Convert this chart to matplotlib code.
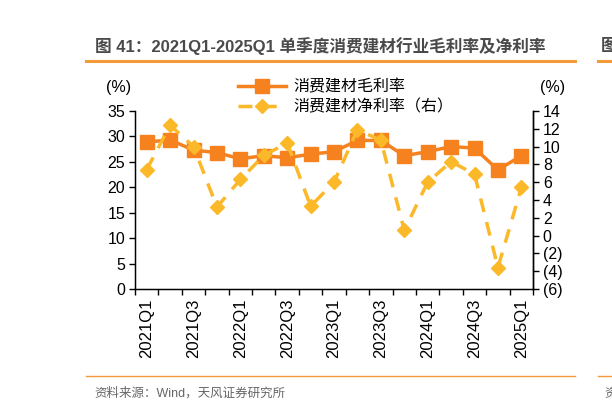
import numpy as np
import matplotlib.pyplot as plt
from matplotlib.lines import Line2D

plt.rcParams['font.family'] = ['Liberation Sans', 'Noto Sans CJK SC']

quarters = ['2021Q1', '2021Q2', '2021Q3', '2021Q4', '2022Q1', '2022Q2', '2022Q3', '2022Q4',
            '2023Q1', '2023Q2', '2023Q3', '2023Q4', '2024Q1', '2024Q2', '2024Q3', '2024Q4', '2025Q1']
gross_margin = [28.9, 29.3, 27.3, 26.8, 25.6, 26.2, 25.8, 26.5,
                27.0, 29.2, 29.2, 26.2, 27.0, 28.0, 27.7, 23.4, 26.2]
net_margin = [7.4, 12.4, 10.0, 3.2, 6.3, 9.0, 10.4, 3.3,
              6.0, 11.9, 10.7, 0.6, 6.0, 8.3, 6.9, -3.6, 5.4]
right_ticks = [14, 12, 10, 8, 6, 4, 2, 0, -2, -4, -6]

c_gross = '#F5821F'
c_net = '#FBB829'

fig = plt.figure(figsize=(6.12, 4.11), dpi=100)
ax = fig.add_axes([0.2206, 0.297, 0.6504, 0.433])
x = np.arange(len(quarters))

ax.plot(x, gross_margin, color=c_gross, lw=2.5, marker='s', markersize=10, zorder=3)
ax.set_ylim(0, 35)
ax.set_yticks(range(0, 36, 5))
ax.set_xlim(-0.5, len(quarters) - 0.5)
ax.set_xticks(x[::2])
ax.set_xticklabels(quarters[::2], rotation=90, fontsize=12)
ax.set_xticks(np.arange(-0.5, len(quarters)), minor=True)
ax.tick_params(axis='x', which='major', length=0, pad=7)
ax.tick_params(axis='x', which='minor', length=4, width=1, direction='out')
ax.tick_params(axis='y', length=4, width=1, labelsize=11.5, direction='out', pad=3)
ax.spines['top'].set_visible(False)
for s in ['left', 'bottom', 'right']:
    ax.spines[s].set_linewidth(1)

ax2 = ax.twinx()
ax2.plot(x, net_margin, color=c_net, lw=2.5, ls=(0, (4, 3)), marker='D', markersize=7.5, zorder=3)
ax2.set_ylim(-6, 14)
ax2.set_yticks(right_ticks)
ax2.set_yticklabels([str(v) if v >= 0 else '(%d)' % -v for v in right_ticks])
ax2.tick_params(axis='y', length=4, width=1, labelsize=11.5, direction='out', pad=3)
ax2.spines['top'].set_visible(False)
ax2.spines['right'].set_linewidth(1)

fig.text(0.193, 0.788, '(%)', fontsize=11.5, ha='center', va='center')
fig.text(0.903, 0.788, '(%)', fontsize=11.5, ha='center', va='center')

handles = [Line2D([], [], color=c_gross, lw=2.5, marker='s', markersize=10),
           Line2D([], [], color=c_net, lw=2.5, ls=(0, (4, 3)), marker='D', markersize=7.5)]
fig.legend(handles, ['消费建材毛利率', '消费建材净利率（右）'], loc='center',
           bbox_to_anchor=(0.565, 0.765), frameon=False, fontsize=11.5,
           handlelength=3.0, handletextpad=0.5, labelspacing=0.3)

fig.text(0.155, 0.888, '图 41：2021Q1-2025Q1 单季度消费建材行业毛利率及净利率',
         fontsize=12, fontweight='bold', color='#4a4a4a', va='center')
fig.add_artist(Line2D([0.141, 0.94], [0.852, 0.852], color='#F39A3B', lw=2.2))
fig.add_artist(Line2D([0.977, 1.0], [0.852, 0.852], color='#F39A3B', lw=2.2))
fig.text(0.982, 0.888, '图', fontsize=12, fontweight='bold', color='#4a4a4a', va='center')

fig.add_artist(Line2D([0.141, 0.94], [0.085, 0.085], color='#F39A3B', lw=1))
fig.add_artist(Line2D([0.977, 1.0], [0.085, 0.085], color='#F39A3B', lw=1))
fig.text(0.155, 0.043, '资料来源：Wind，天风证券研究所', fontsize=9, color='#666666', va='center')
fig.text(0.988, 0.043, '资', fontsize=9, color='#666666', va='center')

fig.savefig('out.png', dpi=100)
